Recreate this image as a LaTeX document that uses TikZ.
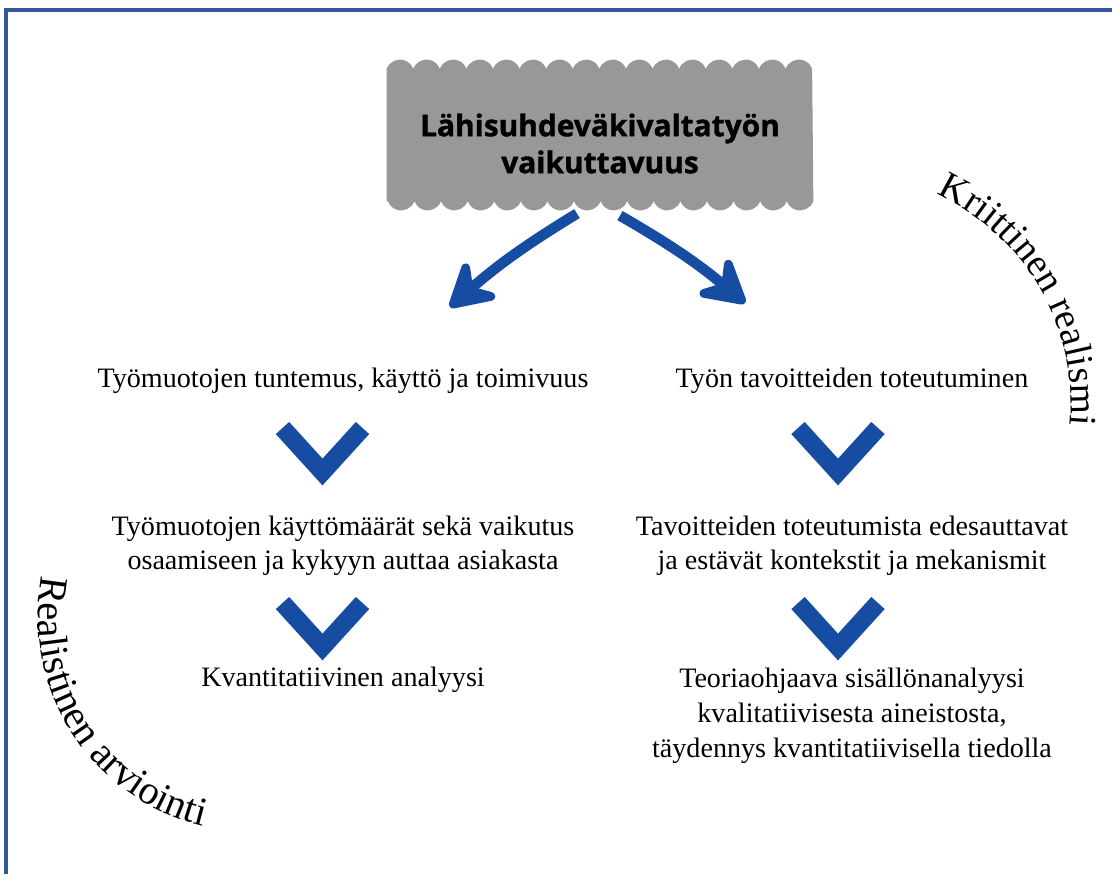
\documentclass[tikz,border=0pt]{standalone}
\usepackage{fontspec}
\setmainfont{Liberation Serif}
\newfontfamily\titlefont{Open Sans}[BoldFeatures={FakeBold=1.2}]
\usetikzlibrary{arrows.meta,decorations.text,backgrounds}

\definecolor{framec}{RGB}{52,86,156}
\definecolor{boxgray}{RGB}{152,152,152}
\definecolor{arrowblue}{RGB}{22,76,162}

\newcommand\stagefont{\fontsize{16}{19.9}\selectfont}

\tikzset{
  titlebox/.style={minimum width=8.52cm, minimum height=2.63cm, inner sep=0pt},
  title/.style={inner sep=0pt, align=center,
    font={\titlefont\bfseries\fontsize{17}{21}\selectfont}},
  stage/.style={anchor=base, align=center, inner sep=0pt, font=\stagefont},
  bigarrow/.style={arrowblue, line width=0.21cm, -{Stealth[length=11mm, width=12.5mm, inset=4mm, round]}},
  chev/.style={arrowblue, line width=0.36cm},
  chevron/.pic={\draw[chev] (-0.8,0) -- (0,-0.88) -- (0.8,0);},
  arctext/.style={decorate, decoration={text along path, text={#1}}}
}

\begin{document}
\begin{tikzpicture}
		\useasboundingbox (0,0) rectangle (22.24,17.48);
		\draw[framec, line width=0.08cm] (0.12,0) -- (0.12,17.27) -- (22.24,17.27);

		% title box with wavy top and bottom
		\draw (12.0,14.78) node [titlebox] (box) {};
		\draw (12.0,14.61) node [title] (top) {Lähisuhdeväkivaltatyön\\vaikuttavuus};
		\begin{pgfonlayer}{background}
			\fill[boxgray] (box.south west) -- (box.north west)
				\foreach \i in {1,...,16} {arc[start angle=160, end angle=20, radius=0.283]}
				-- (box.south east)
				\foreach \i in {1,...,16} {arc[start angle=-20, end angle=-160, radius=0.283]}
				-- cycle;
		\end{pgfonlayer}

		% base = last line of each node
		\draw (6.86,9.72) node [stage] (l1) {Työmuotojen tuntemus, käyttö ja toimivuus};
		\draw (17.04,9.72) node [stage] (r1) {Työn tavoitteiden toteutuminen};
		\draw (6.86,6.08) node [stage] (l2) {Työmuotojen käyttömäärät sekä vaikutus\\osaamiseen ja kykyyn auttaa asiakasta};
		\draw (17.04,6.08) node [stage] (r2) {Tavoitteiden toteutumista edesauttavat\\ja estävät kontekstit ja mekanismit};
		\draw (6.86,3.74) node [stage] (l3) {Kvantitatiivinen analyysi};
		\draw (17.04,2.34) node [stage] (r3) {Teoriaohjaava sisällönanalyysi\\kvalitatiivisesta aineistosta,\\täydennys kvantitatiivisella tiedolla};

		\coordinate (ltip) at (9.0,11.34);
		\coordinate (rtip) at (14.9,11.42);
		\draw[bigarrow] ([xshift=-0.46cm,yshift=-0.25cm]box.south) to[bend right=5] (ltip);
		\draw[bigarrow] ([xshift=0.4cm,yshift=-0.29cm]box.south) to[bend left=5] (rtip);

		\pic at (6.45,8.92) {chevron};
		\pic at (6.45,5.42) {chevron};
		\pic at (16.76,8.92) {chevron};
		\pic at (16.76,5.42) {chevron};

		\path[arctext={|\fontsize{22}{26}\selectfont|Kriittinen realismi}] (16.76,9.38) ++(65:4.66) arc[start angle=65, end angle=-20, radius=4.66];
		\path[arctext={|\fontsize{23}{27}\selectfont|Realistinen arviointi}] (5.06,5.14) ++(169:4.3) arc[start angle=169, end angle=275, radius=4.3];
	\end{tikzpicture}
\end{document}
